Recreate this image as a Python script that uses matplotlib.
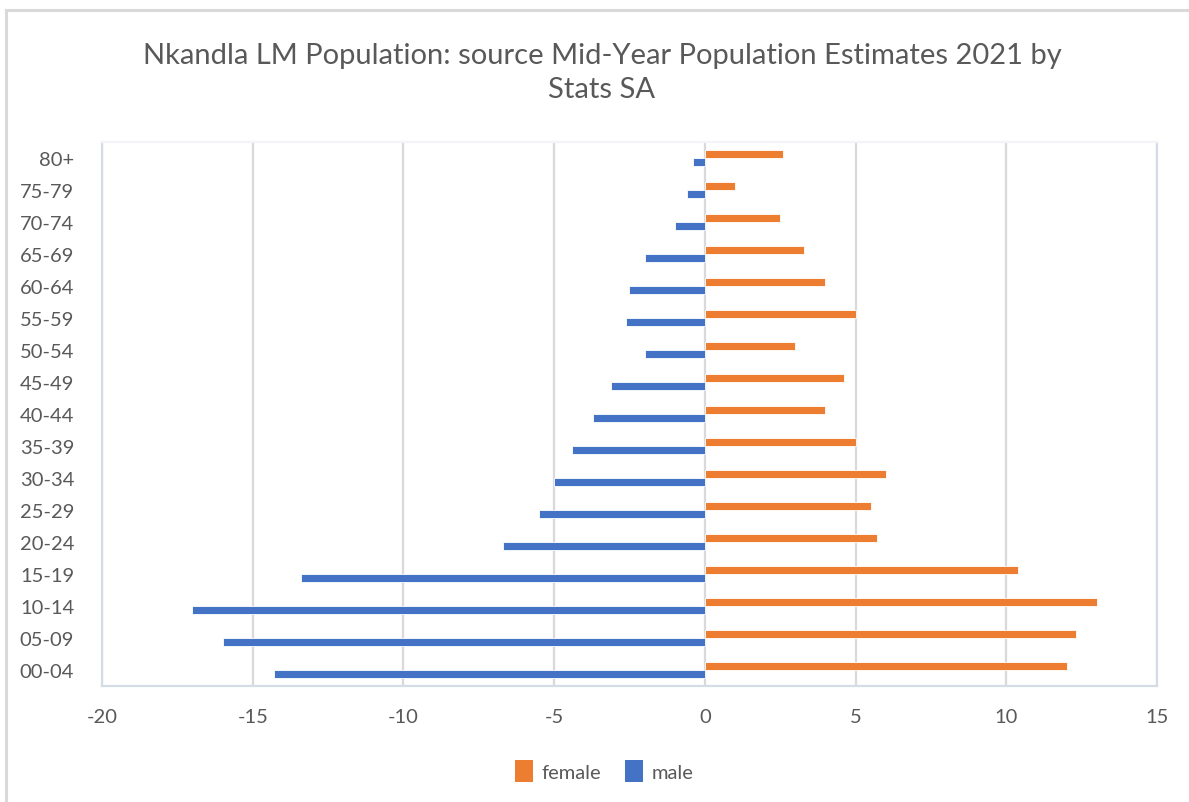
import matplotlib
matplotlib.use("Agg")
import matplotlib.pyplot as plt
import numpy as np
from matplotlib.patches import Patch
from matplotlib.lines import Line2D

age_groups = ["00-04", "05-09", "10-14", "15-19", "20-24", "25-29", "30-34",
              "35-39", "40-44", "45-49", "50-54", "55-59", "60-64", "65-69",
              "70-74", "75-79", "80+"]
female = [12.0, 12.3, 13.0, 10.4, 5.7, 5.5, 6.0, 5.0, 4.0, 4.6, 3.0, 5.0,
          4.0, 3.3, 2.5, 1.0, 2.6]
male = [-14.3, -16.0, -17.0, -13.4, -6.7, -5.5, -5.0, -4.4, -3.7, -3.1,
        -2.0, -2.6, -2.5, -2.0, -1.0, -0.6, -0.4]
x_ticks = [-20, -15, -10, -5, 0, 5, 10, 15]

FEMALE_C = "#ED7D31"
MALE_C = "#4472C4"
TEXT_C = "#595959"
GRID_C = "#D9D9D9"
FRAME_C = "#D6DCE5"

plt.rcParams["font.family"] = ["Lato", "DejaVu Sans"]

fig = plt.figure(figsize=(11.89, 8.03), dpi=100)
ax = fig.add_axes([102 / 1189, 1 - 687 / 803, (1157 - 102) / 1189, (687 - 143) / 803])

y = np.arange(len(age_groups))
h = 0.25
ax.barh(y + h / 2, female, height=h, color=FEMALE_C, edgecolor="white",
        linewidth=0.6, zorder=3, label="female")
ax.barh(y - h / 2, male, height=h, color=MALE_C, edgecolor="white",
        linewidth=0.6, zorder=3, label="male")

ax.set_xlim(-20, 15)
ax.set_ylim(-0.5, len(age_groups) - 0.5)
ax.set_xticks(x_ticks)
ax.set_xticklabels([str(t) for t in x_ticks])
ax.set_yticks(y)
ax.set_yticklabels(age_groups)
ax.tick_params(axis="both", length=0, labelsize=14.5, colors=TEXT_C)
ax.tick_params(axis="x", pad=16)
ax.tick_params(axis="y", pad=20)

ax.xaxis.grid(True, color=GRID_C, linewidth=1.6, zorder=0)
ax.set_axisbelow(True)
for side in ["left", "right", "bottom"]:
    ax.spines[side].set_color(FRAME_C)
    ax.spines[side].set_linewidth(1.6)
ax.spines["top"].set_color("#F2F4F8")
ax.spines["top"].set_linewidth(1.6)

fig.text(602 / 1189, 1 - 73 / 803,
         "Nkandla LM Population: source Mid-Year Population Estimates 2021 by\nStats SA",
         ha="center", va="center", fontsize=21, color=TEXT_C, linespacing=1.38)

handles = [Patch(facecolor=FEMALE_C, edgecolor="none"),
           Patch(facecolor=MALE_C, edgecolor="none")]
fig.legend(handles, ["female", "male"], loc="center",
           bbox_to_anchor=(604 / 1189, 1 - 772 / 803), ncol=2, frameon=False,
           fontsize=14.5, labelcolor=TEXT_C, handlelength=0.9, handleheight=1.3,
           handletextpad=0.4, columnspacing=1.2)

# outer chart frame (top and left edges)
fig.add_artist(Line2D([6 / 1189, 1], [1 - 11 / 803, 1 - 11 / 803],
                      transform=fig.transFigure, color="#D9D9D9", linewidth=2.2))
fig.add_artist(Line2D([6 / 1189, 6 / 1189], [0, 1 - 11 / 803],
                      transform=fig.transFigure, color="#D9D9D9", linewidth=2.2))

fig.savefig("out.png", dpi=100, facecolor="white")
